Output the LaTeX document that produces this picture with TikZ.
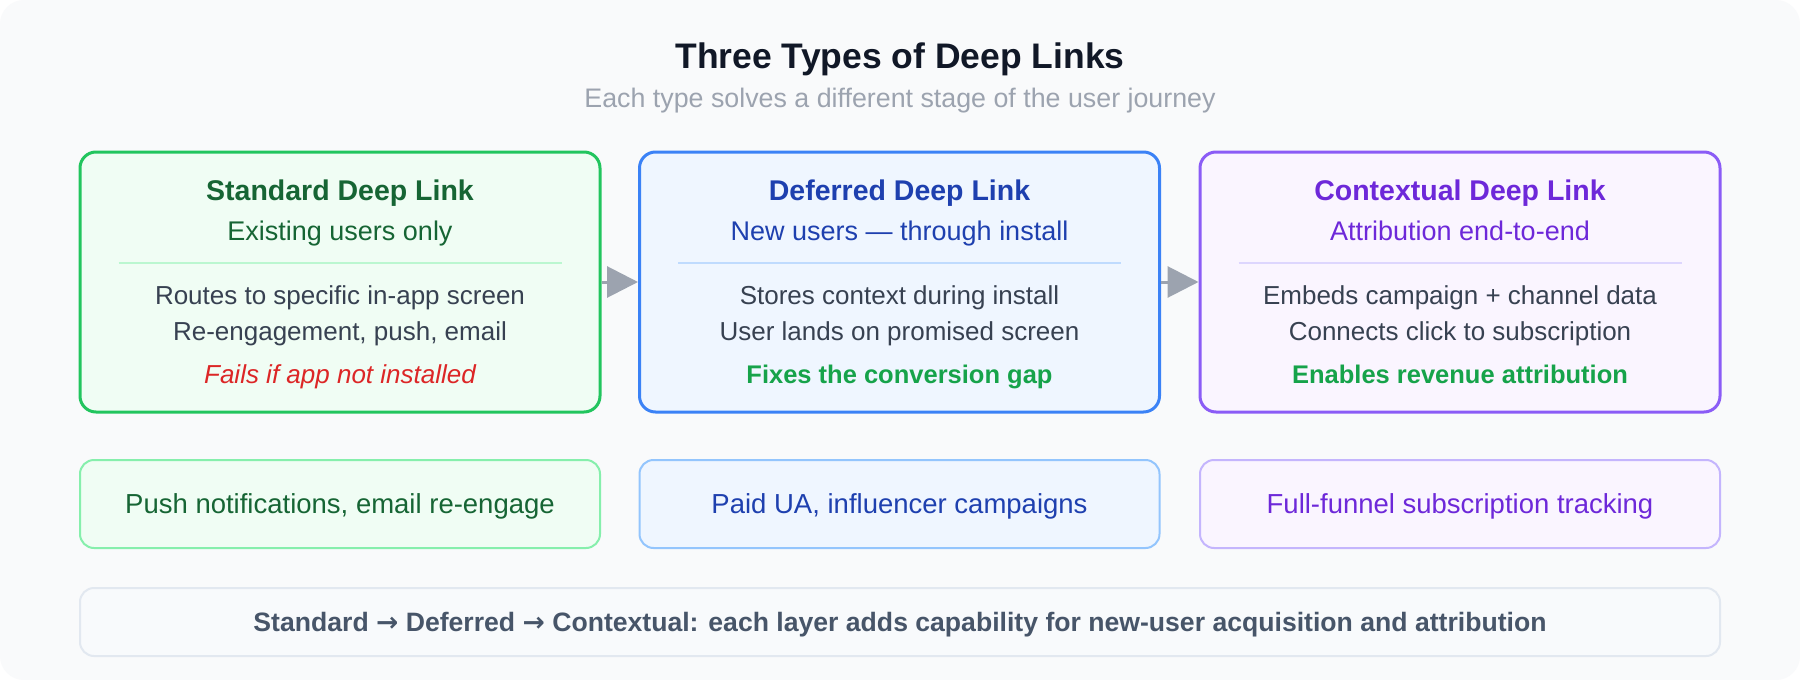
\documentclass[tikz,border=0pt]{standalone}
\usepackage{fontspec}
\setmainfont{Liberation Sans}
\newfontfamily\arrowfont{DejaVu Sans}
\usetikzlibrary{arrows.meta,calc}
\definecolor{bgc}{HTML}{F9FAFB}
\definecolor{titc}{HTML}{111827}
\definecolor{subc}{HTML}{9CA3AF}
\definecolor{bodyc}{HTML}{374151}
\definecolor{gbord}{HTML}{22C55E}
\definecolor{gfill}{HTML}{F0FDF4}
\definecolor{gtext}{HTML}{166534}
\definecolor{gdiv}{HTML}{BBF7D0}
\definecolor{glite}{HTML}{86EFAC}
\definecolor{gok}{HTML}{16A34A}
\definecolor{bbord}{HTML}{3B82F6}
\definecolor{bfill}{HTML}{EFF6FF}
\definecolor{btext}{HTML}{1E40AF}
\definecolor{bdiv}{HTML}{BFDBFE}
\definecolor{blite}{HTML}{93C5FD}
\definecolor{pbord}{HTML}{8B5CF6}
\definecolor{pfill}{HTML}{FAF5FF}
\definecolor{ptext}{HTML}{6D28D9}
\definecolor{pdiv}{HTML}{DDD6FE}
\definecolor{plite}{HTML}{C4B5FD}
\definecolor{redc}{HTML}{DC2626}
\definecolor{ffill}{HTML}{F8FAFC}
\definecolor{fbord}{HTML}{E2E8F0}
\definecolor{ftext}{HTML}{475569}
\definecolor{arrc}{HTML}{9CA3AF}
\tikzset{
  mainbox/.style={draw, line width=3pt, rounded corners=16pt, minimum width=520pt, minimum height=260pt, inner sep=0pt},
  usebox/.style={draw, line width=2pt, rounded corners=14pt, minimum width=520pt, minimum height=88pt, inner sep=0pt},
  txt/.style={anchor=base, inner sep=0pt},
  boxtitle/.style={txt, font=\fontsize{28.5}{32}\selectfont\bfseries},
  boxsub/.style={txt, font=\fontsize{27}{30}\selectfont},
  body/.style={txt, font=\fontsize{26}{30}\selectfont, text=bodyc},
  usetext/.style={txt, font=\fontsize{27.5}{30}\selectfont},
  flowarrow/.style={draw=arrc, line width=3pt, -{Triangle[length=31pt,width=31pt]}, fill=arrc},
}
\begin{document}
\begin{tikzpicture}[x=1pt,y=-1pt]
\useasboundingbox (0,0) rectangle (1800,680);
\fill[white] (0,0) rectangle (1800,680);
\fill[bgc, rounded corners=24pt] (0,0) rectangle (1800,680);

\node[txt, font=\fontsize{35.5}{40}\selectfont\bfseries, text=titc] (title) at (900,68) {Three Types of Deep Links};
\node[txt, font=\fontsize{26.8}{30}\selectfont, text=subc] (subtitle) at (900,107) {Each type solves a different stage of the user journey};

% main boxes
\node[mainbox, draw=gbord, fill=gfill] (b1) at (340,282) {};
\node[mainbox, draw=bbord, fill=bfill] (b2) at (899.5,282) {};
\node[mainbox, draw=pbord, fill=pfill] (b3) at (1460,282) {};

\draw[flowarrow] (b1.east) -- (b2.west);
\draw[flowarrow] (b2.east) -- (b3.west);

% box 1
\node[boxtitle, text=gtext] (t1) at (340,200) {Standard Deep Link};
\node[boxsub, text=gtext] (s1) at (340,240) {Existing users only};
\draw[gdiv, line width=2pt] ($(b1.north west)+(40,112)$) -- ($(b1.north east)+(-40,112)$);
\node[body] (l11) at (340,304) {Routes to specific in-app screen};
\node[body] (l12) at (340,340) {Re-engagement, push, email};
\node[body, text=redc, font=\fontsize{26}{30}\selectfont\itshape] (l13) at (340,383) {Fails if app not installed};

% box 2
\node[boxtitle, text=btext] (t2) at (899.5,200) {Deferred Deep Link};
\node[boxsub, text=btext] (s2) at (899.5,240) {New users — through install};
\draw[bdiv, line width=2pt] ($(b2.north west)+(40,112)$) -- ($(b2.north east)+(-40,112)$);
\node[body] (l21) at (899.5,304) {Stores context during install};
\node[body] (l22) at (899.5,340) {User lands on promised screen};
\node[body, text=gok, font=\fontsize{25.5}{30}\selectfont\bfseries] (l23) at (899.5,383) {Fixes the conversion gap};

% box 3
\node[boxtitle, text=ptext] (t3) at (1460,200) {Contextual Deep Link};
\node[boxsub, text=ptext] (s3) at (1460,240) {Attribution end-to-end};
\draw[pdiv, line width=2pt] ($(b3.north west)+(40,112)$) -- ($(b3.north east)+(-40,112)$);
\node[body] (l31) at (1460,304) {Embeds campaign + channel data};
\node[body] (l32) at (1460,340) {Connects click to subscription};
\node[body, text=gok, font=\fontsize{25.5}{30}\selectfont\bfseries] (l33) at (1460,383) {Enables revenue attribution};

% use-case boxes
\node[usebox, draw=glite, fill=gfill] (u1) at (340,504) {};
\node[usebox, draw=blite, fill=bfill] (u2) at (899.5,504) {};
\node[usebox, draw=plite, fill=pfill] (u3) at (1460,504) {};
\node[usetext, text=gtext] (ut1) at (340,513) {Push notifications, email re-engage};
\node[usetext, text=btext] (ut2) at (899.5,513) {Paid UA, influencer campaigns};
\node[usetext, text=ptext] (ut3) at (1460,513) {Full-funnel subscription tracking};

% footer
\node[draw=fbord, fill=ffill, line width=2pt, rounded corners=14pt, minimum width=1640pt, minimum height=68pt, inner sep=0pt] (foot) at (900,622) {};
\node[txt, font=\fontsize{26.6}{28}\selectfont\bfseries, text=ftext] (ft) at (900,631) {Standard {\arrowfont\bfseries →} Deferred {\arrowfont\bfseries →} Contextual: each layer adds capability for new-user acquisition and attribution};
\end{tikzpicture}
\end{document}
